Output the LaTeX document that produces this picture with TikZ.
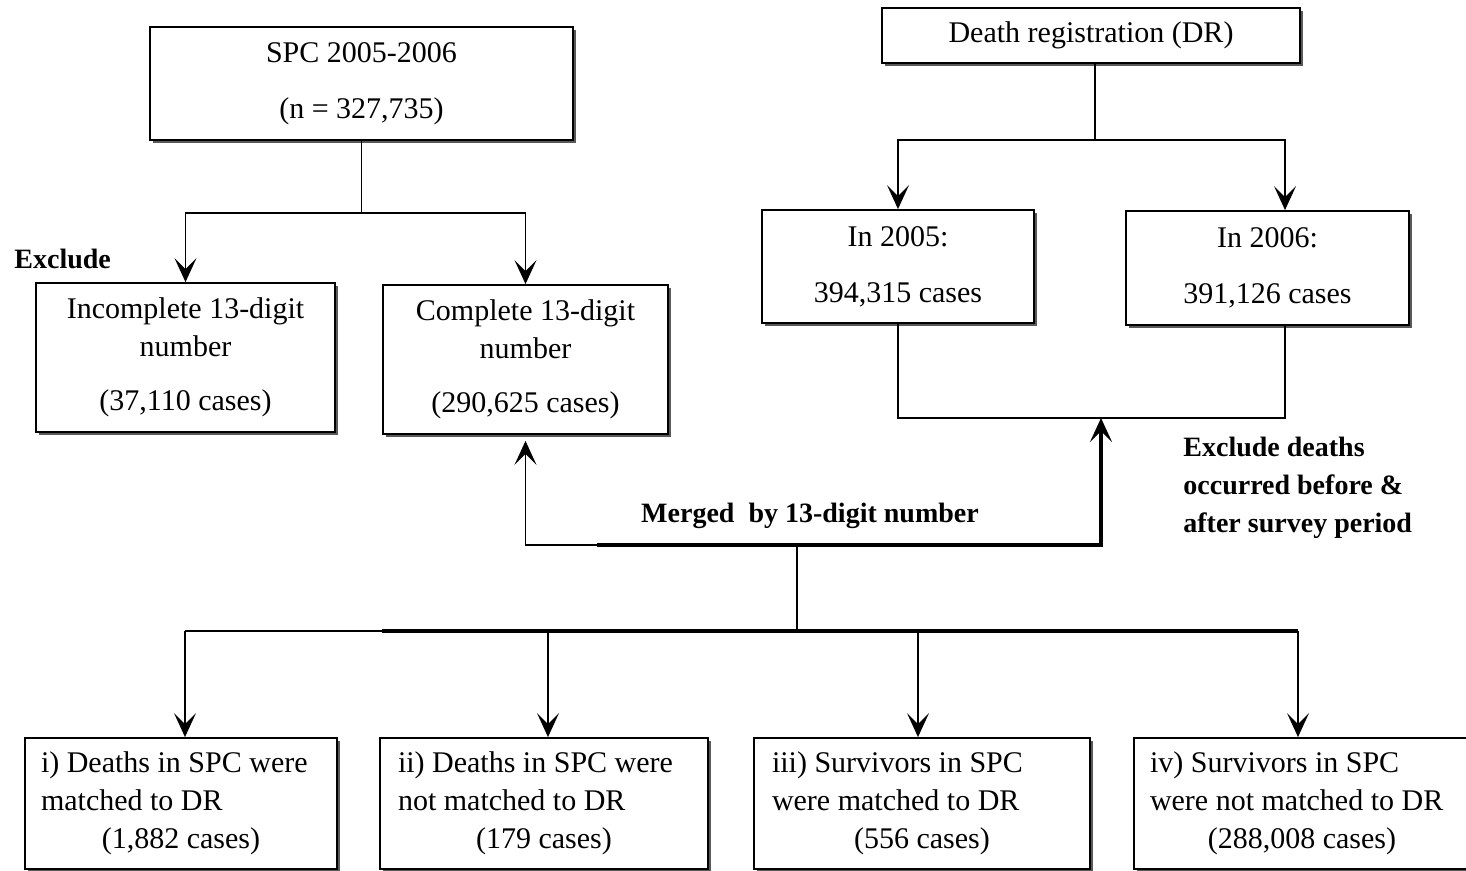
\documentclass[tikz,border=0pt]{standalone}
\usepackage{fontspec}
\setmainfont{Liberation Serif}
\usetikzlibrary{arrows.meta,shadows}
\newcommand{\leftln}[2]{\makebox[#1][l]{#2}}
\newcommand{\centln}[2]{\makebox[#1][c]{#2}}
\begin{document}
\begin{tikzpicture}[x=0.5pt,y=-0.5pt,
  font=\fontsize{15}{19}\selectfont,
  box/.style={draw=black,line width=0.9pt,fill=white,inner sep=0pt,align=center,
     drop shadow={shadow xshift=1.6pt,shadow yshift=-1.6pt,fill=black!65,opacity=1}},
  botbox/.style={box,minimum height=65.5pt,minimum width=#1},
  arr/.style={-{Stealth[length=12pt,width=11pt,inset=5.5pt]}},
  ln/.style={line width=0.8pt},
  thk/.style={line width=1.6pt},
  lbl/.style={font=\fontsize{14}{19}\selectfont\bfseries,inner sep=0pt}]
\useasboundingbox (0,0) rectangle (1466,871);
% top-left branch
\node[box,minimum width=211.5pt,minimum height=56.5pt] (spc) at (361.5,83.5)
  {SPC 2005-2006\\[9pt](n = 327,735)};
\node[box,minimum width=149.5pt,minimum height=74.5pt] (inc) at (185.5,357.5)
  {Incomplete 13-digit\\ number\\[8pt] (37,110 cases)};
\node[box,minimum width=142.5pt,minimum height=74.5pt] (comp) at (525.5,359.5)
  {Complete 13-digit\\ number\\[8pt] (290,625 cases)};
% top-right branch
\node[box,minimum width=209pt,minimum height=27.5pt] (dr) at (1091,35.5)
  {Death registration (DR)};
\node[box,minimum width=136pt,minimum height=56.5pt] (y2005) at (898,266.5)
  {In 2005:\\[9pt]394,315 cases};
\node[box,minimum width=141.5pt,minimum height=57pt] (y2006) at (1267.5,268)
  {In 2006:\\[9pt]391,126 cases};
% bottom boxes
\node[botbox=156pt] (b1) at (181,803.5)
  {\leftln{140pt}{i) Deaths in SPC were}\\ \leftln{140pt}{matched to DR}\\ \centln{140pt}{(1,882 cases)}};
\node[botbox=164pt] (b2) at (544,803.5)
  {\leftln{146pt}{ii) Deaths in SPC were}\\ \leftln{146pt}{not matched to DR}\\ \centln{146pt}{(179 cases)}};
\node[botbox=168pt] (b3) at (922,803.5)
  {\leftln{150pt}{iii) Survivors in SPC}\\ \leftln{150pt}{were matched to DR}\\ \centln{150pt}{(556 cases)}};
\node[botbox=168pt] (b4) at (1302,803.5)
  {\leftln{152pt}{iv) Survivors in SPC}\\ \leftln{152pt}{were not matched to DR}\\ \centln{152pt}{(288,008 cases)}};
% labels
\node[lbl,anchor=west] (excl) at (14,259) {Exclude};
\node[lbl] (mlbl) at (810,516) {Merged\ \ by 13-digit number};
\node[lbl,anchor=north west,align=left] (exdl) at (1183,437)
  {Exclude deaths\\occurred before \&\\after survey period};
% SPC connectors
\coordinate (spcj) at (361.5,213);
\draw[ln] (spc.south) -- (spcj);
\draw[ln,arr] (spcj) -| (inc.north);
\draw[ln,arr] (spcj) -| (comp.north);
% DR connectors
\coordinate (drj) at (1095,140);
\coordinate (x2006) at (1285,0);
\draw[ln] (dr.south -| drj) -- (drj);
\draw[ln,arr] (drj) -| (y2005.north);
\draw[ln,arr] (drj) -| (y2006.north -| x2006);
\coordinate (dj) at (1101,418);
\draw[ln] (y2005.south) |- (dj) -| (y2006.south -| x2006);
% merge
\coordinate (mt) at (597,545);
\coordinate (mj) at (797,545);
\draw[ln,arr,shorten >=3pt] (mt) -| (comp.south);
\draw[thk,arr] (mt) -| (dj);
% bus to bottom boxes
\coordinate (bus) at (797,631);
\coordinate (bt) at (382,631);
\coordinate (a1) at (185,0);
\coordinate (a2) at (548,0);
\coordinate (a3) at (918,0);
\coordinate (a4) at (1298,0);
\draw[ln] (mj) -- (bus);
\draw[ln] (bus -| a1) -- (bus -| a4);
\draw[thk] (bt) -- (bus -| a4);
\draw[line width=1.2pt] (bus -| a1) -- ++(64,0);
\draw[ln,arr] (bus -| a1) -- (a1 |- b1.north);
\draw[ln,arr] (bus -| a2) -- (a2 |- b2.north);
\draw[ln,arr] (bus -| a3) -- (a3 |- b3.north);
\draw[ln,arr] (bus -| a4) -- (a4 |- b4.north);
\end{tikzpicture}
\end{document}
